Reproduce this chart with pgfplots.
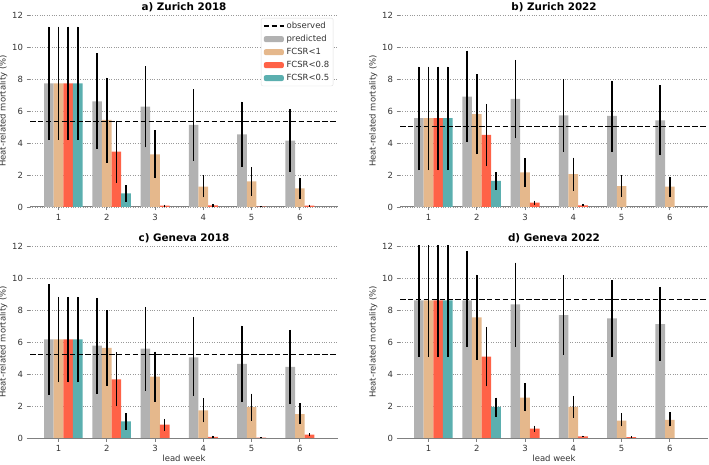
\documentclass[border=0pt]{standalone}
\usepackage{fontspec}
\setmainfont{DejaVu Sans}
\usepackage{pgfplots}
\usepackage{pgfplotstable}
\pgfplotsset{compat=1.18}
\definecolor{cgray}{HTML}{B2B2B2}
\definecolor{ctan}{HTML}{E5B88C}
\definecolor{cred}{HTML}{FF6247}
\definecolor{cteal}{HTML}{5BAFAF}
\definecolor{ctxt}{HTML}{333333}

% columns: week, predicted (y lo hi), FCSR<1, FCSR<0.8, FCSR<0.5
\pgfplotstableread{
x py plo phi ty tlo thi ry rlo rhi gy glo ghi
1 7.73 4.19 11.27 7.73 4.19 11.27 7.73 4.19 11.27 7.73 4.19 11.27
2 6.60 3.63 9.60 5.44 2.77 8.08 3.46 1.50 5.40 0.85 0.33 1.35
3 6.27 3.73 8.81 3.29 1.79 4.81 0.08 0.00 0.15 nan nan nan
4 5.13 2.90 7.35 1.27 0.60 2.00 0.10 0.03 0.20 nan nan nan
5 4.54 2.52 6.58 1.60 0.71 2.48 0.02 0.00 0.05 nan nan nan
6 4.15 2.20 6.10 1.17 0.52 1.83 0.08 0.02 0.15 nan nan nan
}\tabA
\pgfplotstableread{
x py plo phi ty tlo thi ry rlo rhi gy glo ghi
1 5.56 2.31 8.77 5.56 2.31 8.77 5.56 2.31 8.77 5.56 2.31 8.77
2 6.90 4.04 9.77 5.81 3.31 8.31 4.50 2.56 6.44 1.63 1.06 2.17
3 6.75 4.29 9.19 2.17 1.27 3.04 0.27 0.15 0.40 nan nan nan
4 5.73 3.46 8.00 2.06 1.02 3.08 0.10 0.04 0.20 nan nan nan
5 5.69 3.46 7.90 1.31 0.65 1.98 nan nan nan nan nan nan
6 5.42 3.23 7.60 1.27 0.65 1.90 nan nan nan nan nan nan
}\tabB
\pgfplotstableread{
x py plo phi ty tlo thi ry rlo rhi gy glo ghi
1 6.17 2.70 9.61 6.17 3.47 8.82 6.17 3.47 8.82 6.17 3.47 8.82
2 5.77 2.76 8.76 5.63 3.28 7.99 3.67 1.97 5.36 1.04 0.52 1.54
3 5.58 2.95 8.20 3.84 2.26 5.40 0.83 0.46 1.20 nan nan nan
4 5.04 2.62 7.54 1.72 0.98 2.47 0.07 0.02 0.15 nan nan nan
5 4.63 2.24 7.02 1.93 1.08 2.78 0.03 0.00 0.06 nan nan nan
6 4.44 2.12 6.75 1.49 0.87 2.16 0.21 0.10 0.30 nan nan nan
}\tabC
\pgfplotstableread{
x py plo phi ty tlo thi ry rlo rhi gy glo ghi
1 8.60 5.09 12.50 8.60 5.09 12.50 8.60 5.09 12.50 8.60 5.09 12.50
2 8.60 5.71 11.69 7.54 4.88 10.21 5.09 3.22 6.95 1.95 1.31 2.53
3 8.35 5.71 10.96 2.53 1.66 3.43 0.58 0.39 0.77 nan nan nan
4 7.68 5.19 10.17 1.95 1.25 2.64 0.10 0.05 0.15 nan nan nan
5 7.47 5.09 9.86 1.08 0.73 1.54 0.05 0.00 0.10 nan nan nan
6 7.12 4.84 9.45 1.14 0.73 1.60 nan nan nan nan nan nan
}\tabD

\pgfplotsset{
  every axis title shift=0pt,
  panel/.style={
    scale only axis, width=308bp, height=192bp,
    xmin=0.41, xmax=6.79, ymin=0, ymax=12,
    xtick={1,2,3,4,5,6}, ytick={0,2,4,6,8,10,12},
    axis x line*=bottom, axis y line*=left,
    y axis line style={draw=none},
    x axis line style={draw=gray, line width=1bp},
    ymajorgrids, grid style={dotted, gray!80, line width=0.7bp},
    tick style={gray, line width=0.8bp}, major tick length=3.5bp, tick align=outside,
    ticklabel style={font=\fontsize{8.5}{10}\selectfont, text=ctxt},
    /pgf/number format/assume math mode=true,
    label style={font=\fontsize{8.5}{10}\selectfont, text=ctxt},
    ylabel={Heat-related mortality (\%)},
    ylabel style={yshift=-2bp},
    xlabel style={yshift=3bp},
    title style={font=\bfseries\fontsize{10.4}{12}\selectfont, at={(0.5,1)}, anchor=base, yshift=4.5bp, inner sep=0bp},
    clip=true,
  },
  errb/.style={error bars/.cd, y dir=both, y explicit, error mark=none,
    error bar style={black, line width=1.5bp}},
  barleg/.style={legend image code/.code={\fill[##1, draw=none] (0bp,-3bp) rectangle (20bp,3bp);}},
  lineleg/.style={legend image code/.code={\draw[##1] (0bp,0bp) -- (20bp,0bp);}},
  obsline/.style={black, dash pattern=on 5.5bp off 2.4bp, line width=1.5bp},
}

\newcommand{\bars}[1]{%
  \addplot[ybar, bar width=0.2, bar shift=0, fill=cgray, draw=none, barleg, errb]
    table[x expr=\thisrow{x}-0.2, y=py, y error plus expr=\thisrow{phi}-\thisrow{py}, y error minus expr=\thisrow{py}-\thisrow{plo}] {#1};
  \addplot[ybar, bar width=0.2, bar shift=0, fill=ctan, draw=none, barleg, errb]
    table[x=x, y=ty, y error plus expr=\thisrow{thi}-\thisrow{ty}, y error minus expr=\thisrow{ty}-\thisrow{tlo}] {#1};
  \addplot[ybar, bar width=0.2, bar shift=0, fill=cred, draw=none, barleg, errb]
    table[x expr=\thisrow{x}+0.2, y=ry, y error plus expr=\thisrow{rhi}-\thisrow{ry}, y error minus expr=\thisrow{ry}-\thisrow{rlo}] {#1};
  \addplot[ybar, bar width=0.2, bar shift=0, fill=cteal, draw=none, barleg, errb]
    table[x expr=\thisrow{x}+0.4, y=gy, y error plus expr=\thisrow{ghi}-\thisrow{gy}, y error minus expr=\thisrow{gy}-\thisrow{glo}] {#1};
}
\newcommand{\obs}[1]{%
  \addplot[obsline, forget plot]
    coordinates {(0.41,#1) (6.79,#1)};
}

\begin{document}
\begin{tikzpicture}
\path[use as bounding box] (0,0) rectangle (709bp,465bp);

\begin{axis}[panel, at={(30bp,258bp)}, anchor=south west, title={a) Zurich 2018},
  legend style={at={(0.985,0.985)}, anchor=north east, draw=gray!25, rounded corners=2bp,
    font=\fontsize{8.5}{10}\selectfont, text=ctxt, fill=white, inner sep=2bp, row sep=1.2bp},
  legend cell align=left]
\addlegendimage{obsline, lineleg}
\addlegendentry{observed}
\bars{\tabA}
\addlegendentry{predicted}
\addlegendentry{FCSR<1}
\addlegendentry{FCSR<0.8}
\addlegendentry{FCSR<0.5}
\obs{5.33}
\end{axis}

\begin{axis}[panel, at={(400bp,258bp)}, anchor=south west, title={b) Zurich 2022}]
\bars{\tabB}
\obs{5.02}
\end{axis}

\begin{axis}[panel, at={(30bp,27bp)}, anchor=south west, title={c) Geneva 2018}, xlabel={lead week}]
\bars{\tabC}
\obs{5.23}
\end{axis}

\begin{axis}[panel, at={(400bp,27bp)}, anchor=south west, title={d) Geneva 2022}, xlabel={lead week}]
\bars{\tabD}
\obs{8.66}
\end{axis}
\end{tikzpicture}
\end{document}
